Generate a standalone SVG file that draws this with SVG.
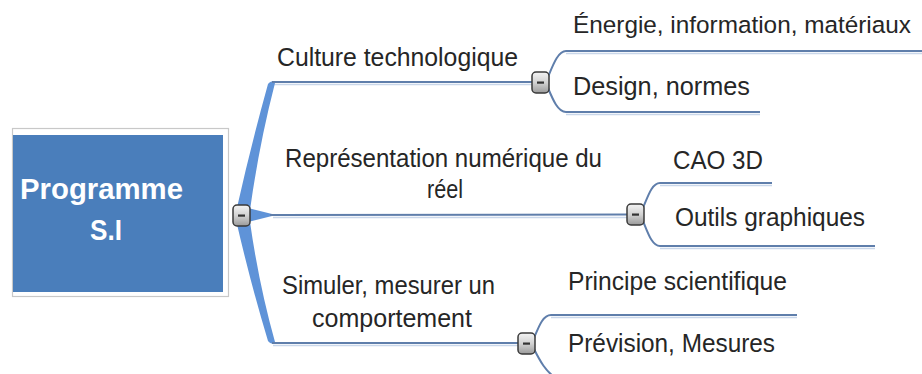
<svg xmlns="http://www.w3.org/2000/svg" width="922" height="374" viewBox="0 0 922 374">
  <defs>
    <linearGradient id="btnGrad" x1="0" y1="0" x2="0" y2="1">
      <stop offset="0" stop-color="#f4f4f4"/>
      <stop offset="0.5" stop-color="#d2d2d2"/>
      <stop offset="1" stop-color="#9a9a9a"/>
    </linearGradient>
    <g id="btn">
      <rect x="0" y="0" width="17" height="21" rx="4" ry="4" fill="url(#btnGrad)" stroke="#3a3a3a" stroke-width="1.5"/>
      <rect x="5" y="9.5" width="7" height="2.2" fill="#333333"/>
    </g>
  </defs>
  <style>
    .lbl { font-family: "Liberation Sans", Arial, sans-serif; font-size: 26px; fill: #262626; }
    .root { font-family: "Liberation Sans", Arial, sans-serif; font-size: 30px; font-weight: bold; fill: #ffffff; }
    .wedge { fill: #5f93d8; }
    .line { fill: none; stroke: #5f7eab; stroke-width: 2; }
    .shadow { fill: none; stroke: #c9d7ea; stroke-width: 1.5; }
  </style>
  <rect x="0" y="0" width="922" height="374" fill="#ffffff"/>

  <g id="connectors">
    <path class="shadow" d="M 273 84.5 L 532 84.5"/>
    <path class="shadow" d="M 273 217.5 L 627 217.5"/>
    <path class="shadow" d="M 273 345.5 L 518 345.5"/>
    <path class="shadow" d="M 566 53.5 L 922 53.5"/>
    <path class="shadow" d="M 566 114.5 L 760 114.5"/>
    <path class="shadow" d="M 660 185.5 L 772 185.5"/>
    <path class="shadow" d="M 660 248.5 L 875 248.5"/>
    <path class="shadow" d="M 551 317.5 L 797 317.5"/>
    <path class="wedge" d="M 236 212 Q 251 145 268 84 Q 270 81 275 81 L 275 83 Q 259 145 250 210 Z"/>
    <path class="wedge" d="M 248 208 L 272 214 L 272 216 L 248 222 Z"/>
    <path class="wedge" d="M 236 220 Q 251 285 268 341 Q 270 344 275 344 L 275 342 Q 259 285 250 222 Z"/>
    <path class="line" d="M 272 82 L 532 82"/>
    <path class="line" d="M 270 215 L 627 214.5"/>
    <path class="line" d="M 272 343 L 518 343"/>
    <path class="line" d="M 548 77 C 553 65, 558 51, 566 51 L 922 51"/>
    <path class="line" d="M 548 88 C 553 100, 558 112, 566 112 L 760 112"/>
    <path class="line" d="M 643 208 C 648 196, 652 183, 660 183 L 772 183"/>
    <path class="line" d="M 643 221 C 648 233, 652 246, 660 246 L 875 246"/>
    <path class="line" d="M 534 338 C 539 326, 543 315, 551 315 L 797 315"/>
    <path class="line" d="M 534 349 C 540 361, 546 372, 556 378"/>
  </g>

  <g id="root-node">
    <rect x="12.5" y="128.5" width="216" height="168" fill="none" stroke="#c8c8c8" stroke-width="1.2"/>
    <rect x="13" y="135" width="210" height="157" fill="#4a7ebb"/>
    <text class="root" x="20" y="199" textLength="163" lengthAdjust="spacingAndGlyphs">Programme</text>
    <text class="root" x="90" y="240" textLength="32" lengthAdjust="spacingAndGlyphs">S.I</text>
    <use href="#btn" x="233" y="205"/>
  </g>

  <g id="culture-technologique">
    <text class="lbl" x="277" y="66" textLength="241" lengthAdjust="spacingAndGlyphs">Culture technologique</text>
    <use href="#btn" x="532" y="72"/>
  </g>
  <g id="energie">
    <text class="lbl" x="573" y="33" style="font-size:24.5px" textLength="338" lengthAdjust="spacingAndGlyphs">Énergie, information, matériaux</text>
  </g>
  <g id="design">
    <text class="lbl" x="573" y="95" textLength="177" lengthAdjust="spacingAndGlyphs">Design, normes</text>
  </g>

  <g id="representation">
    <text class="lbl" x="285" y="167" textLength="317" lengthAdjust="spacingAndGlyphs">Représentation numérique du</text>
    <text class="lbl" x="427" y="198" textLength="36" lengthAdjust="spacingAndGlyphs">réel</text>
    <use href="#btn" x="627" y="204"/>
  </g>
  <g id="cao">
    <text class="lbl" x="673" y="169" textLength="90" lengthAdjust="spacingAndGlyphs">CAO 3D</text>
  </g>
  <g id="outils">
    <text class="lbl" x="675" y="226" textLength="190" lengthAdjust="spacingAndGlyphs">Outils graphiques</text>
  </g>

  <g id="simuler">
    <text class="lbl" x="282" y="294" textLength="213" lengthAdjust="spacingAndGlyphs">Simuler, mesurer un</text>
    <text class="lbl" x="312" y="327" textLength="160" lengthAdjust="spacingAndGlyphs">comportement</text>
    <use href="#btn" x="518" y="333"/>
  </g>
  <g id="principe">
    <text class="lbl" x="568" y="290" textLength="219" lengthAdjust="spacingAndGlyphs">Principe scientifique</text>
  </g>
  <g id="prevision">
    <text class="lbl" x="568" y="352" textLength="207" lengthAdjust="spacingAndGlyphs">Prévision, Mesures</text>
  </g>
</svg>
